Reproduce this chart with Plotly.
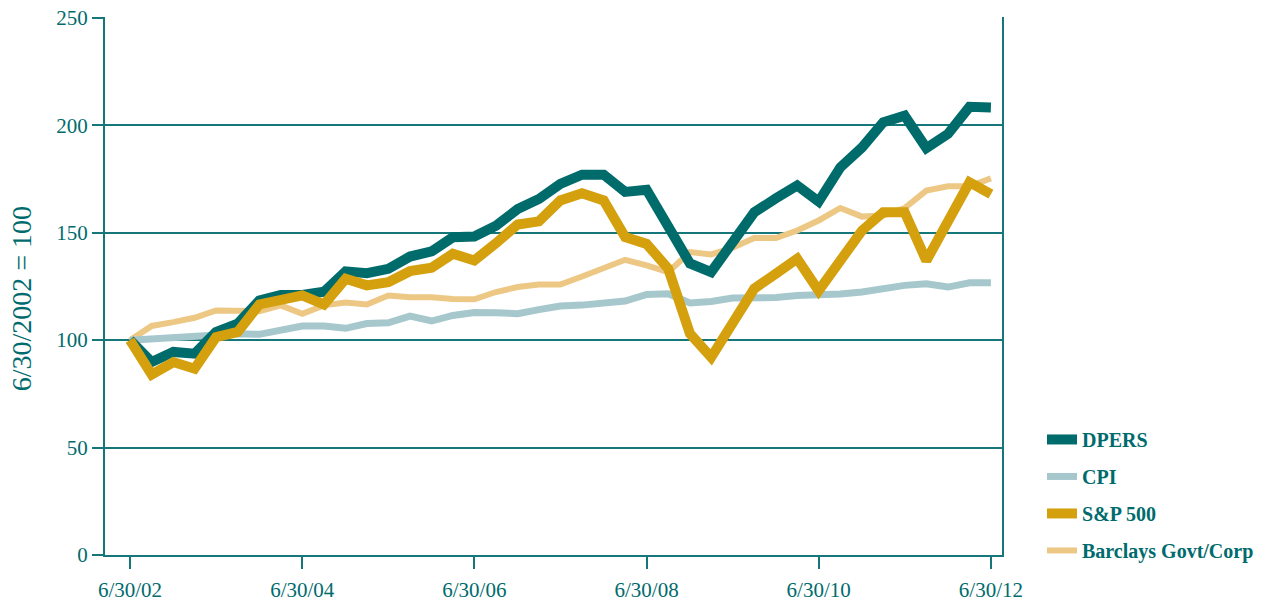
import pandas as pd
import plotly.graph_objects as go

quarters = pd.date_range("2002-06-30", "2012-06-30", freq="QE")

dpers = [100, 89.8, 94.5, 93.7, 103.8, 107.7, 118.5, 121, 121, 122.5, 132, 131.2, 133.2, 138.9, 141.3,
         147.9, 148.2, 153.3, 161, 165.7, 172.7, 177, 177, 169, 170, 152.5, 135.7, 131.7, 145, 159.5,
         166, 172, 164.5, 180.4, 189.7, 201.4, 204.5, 189.4, 196, 208.6, 208.3]
cpi = [100, 100.6, 101.2, 102.5, 103, 103, 102.7, 104.6, 106.6, 106.6, 105.5, 107.7, 108.1, 111.2, 108.9,
       111.5, 112.9, 112.8, 112.3, 114.2, 115.9, 116.3, 117.2, 118.2, 121.3, 121.6, 117.3, 118, 119.6, 119.7,
       119.8, 120.8, 120.8, 121.5, 122.4, 123.9, 125.5, 126.2, 124.7, 126.7, 126.7]
sp500 = [100, 84, 89.8, 86.7, 101.4, 103.8, 116.6, 118.8, 120.8, 116.6, 128.6, 125.5, 127, 132.1, 133.7,
         140.2, 137.1, 145.1, 153.8, 155.3, 165, 168.4, 165, 148, 144.8, 133.2, 103, 92, 107, 124,
         131, 137.9, 123, 137.5, 151, 159.5, 159.5, 137, 156, 173.5, 168]
barclays = [100, 106.6, 108.4, 110.4, 113.8, 113.5, 113.5, 116.2, 112.3, 116.2, 117.5, 116.6, 120.8, 120, 120,
            119.1, 119, 122.4, 124.7, 125.9, 125.9, 129.6, 133.7, 137.4, 134.8, 131.7, 141, 139.9, 143, 147.5,
            147.5, 151, 155.7, 161.5, 157.5, 158, 161.5, 169.6, 171.6, 171.6, 175.3]

tick_dates = ["2002-06-30", "2004-06-30", "2006-06-30", "2008-06-30", "2010-06-30", "2012-06-30"]
tick_labels = ["6/30/02", "6/30/04", "6/30/06", "6/30/08", "6/30/10", "6/30/12"]
y_ticks = [0, 50, 100, 150, 200, 250]
y_title = "6/30/2002 = 100"

TEAL = "#006b6d"
AXIS = "#15777a"
SERIF = "Liberation Serif"

fig = go.Figure()
series = [
    ("Barclays Govt/Corp", barclays, "#edc885", 6, 4),
    ("CPI", cpi, "#a6c8cd", 7, 2),
    ("DPERS", dpers, "#006b6b", 10, 1),
    ("S&P 500", sp500, "#d4a00e", 10, 3),
]
for name, vals, color, width, rank in series:
    fig.add_trace(go.Scatter(
        x=quarters, y=vals, name=name, mode="lines",
        line=dict(color=color, width=width),
        legendrank=rank, legendgroup=name,
    ))

fig.update_layout(
    width=1261, height=602,
    margin=dict(l=105, r=259, t=17, b=47, autoexpand=False),
    paper_bgcolor="white", plot_bgcolor="white",
    font=dict(family=SERIF, color=TEAL, size=21),
    showlegend=True,
    legend=dict(
        x=1.0446, xanchor="left", y=0.251, yanchor="top",
        font=dict(family=SERIF, size=20, color=TEAL, weight="bold"),
        tracegroupgap=8, traceorder="grouped",
        bgcolor="rgba(0,0,0,0)",
    ),
    xaxis=dict(
        range=["2002-03-16", "2012-08-16"],
        tickvals=tick_dates, ticktext=tick_labels,
        showgrid=False, zeroline=False, automargin=False,
        showline=True, linecolor=AXIS, linewidth=2,
        ticks="outside", ticklen=12, tickwidth=2, tickcolor=AXIS,
        ticklabelstandoff=3,
        tickfont=dict(family=SERIF, size=21, color=TEAL),
    ),
    yaxis=dict(
        range=[0, 250.4], tickvals=y_ticks, automargin=False,
        ticklabeloverflow="allow",
        showgrid=True, gridcolor=AXIS, gridwidth=1.5,
        zeroline=False,
        showline=True, linecolor=AXIS, linewidth=2, mirror=True,
        ticks="outside", ticklen=11, tickwidth=2, tickcolor=AXIS,
        tickfont=dict(family=SERIF, size=21, color=TEAL),
    ),
    annotations=[dict(
        text=y_title, textangle=-90, showarrow=False,
        xref="paper", yref="paper", x=-0.0937, y=0.477,
        xanchor="center", yanchor="middle",
        font=dict(family=SERIF, size=28, color=TEAL),
    )],
)

fig.write_html(
    "out.html",
    config={"displayModeBar": False},
    post_script="document.body.style.margin='0';document.body.style.overflow='hidden';",
)
